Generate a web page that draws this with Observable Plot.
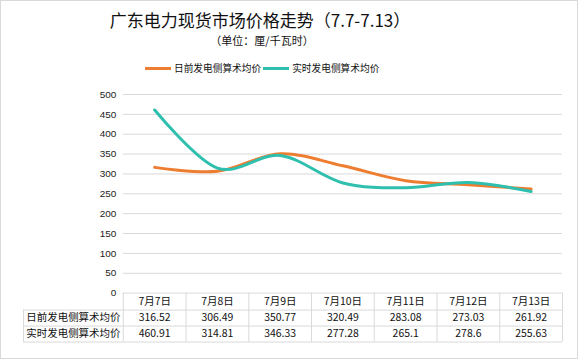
<!DOCTYPE html>
<html>
<head>
<meta charset="utf-8">
<script src="https://cdn.jsdelivr.net/npm/d3@7"></script>
<script src="https://cdn.jsdelivr.net/npm/@observablehq/plot@0.6"></script>
<style>
  html, body { margin: 0; padding: 0; background: #fff; }
  #wrap { position: relative; width: 576px; height: 357px; border: 1px solid #D9D9D9; overflow: hidden; font-family: "Noto Sans CJK SC", sans-serif; }
  #title { position: absolute; left: 0; top: 8px; width: 518px; text-align: center; font-size: 17px; line-height: 22px; color: #111; }
  #subtitle { position: absolute; left: 0; top: 31px; width: 522px; text-align: center; font-size: 11px; line-height: 16px; color: #111; }
  #legend { position: absolute; left: 144px; top: 59px; height: 16px; display: flex; align-items: center; font-size: 9.7px; color: #111; white-space: nowrap; }
  .sw { display: inline-block; width: 26px; height: 3px; margin-right: 3px; }
  .item { display: flex; align-items: center; margin-right: 2px; }
  #chart { position: absolute; left: -1px; top: 79px; }
</style>
</head>
<body>
<div id="wrap">
  <div id="title">广东电力现货市场价格走势（7.7-7.13）</div>
  <div id="subtitle">（单位：厘/千瓦时）</div>
  <div id="legend"></div>
  <div id="chart"></div>
</div>
<script>
const categories = ["7月7日", "7月8日", "7月9日", "7月10日", "7月11日", "7月12日", "7月13日"];
const seriesNames = ["日前发电侧算术均价", "实时发电侧算术均价"];
const dayAhead = [316.52, 306.49, 350.77, 320.49, 283.08, 273.03, 261.92];
const realTime = [460.91, 314.81, 346.33, 277.28, 265.1, 278.6, 255.63];
const yTicks = [0, 50, 100, 150, 200, 250, 300, 350, 400, 450, 500];
const colors = ["#ED7D31", "#2EBFAE"];

const legend = document.getElementById("legend");
seriesNames.forEach((n, k) => {
  const it = document.createElement("span");
  it.className = "item";
  it.innerHTML = `<span class="sw" style="background:${colors[k]}"></span><span>${n}</span>`;
  legend.appendChild(it);
});

const rows = [];
categories.forEach((c, i) => {
  rows.push({i, cat: c, series: seriesNames[0], value: dayAhead[i]});
  rows.push({i, cat: c, series: seriesNames[1], value: realTime[i]});
});
const idx = categories.map((c, i) => i);
const bounds = d3.range(categories.length + 1).map(i => i - 0.5);
const tableFont = "Noto Sans CJK SC, sans-serif";
const gridColor = "#D9D9D9";
const txt = "#111";

const chart = Plot.plot({
  width: 578,
  height: 280,
  marginTop: 14,
  marginBottom: 67,
  marginLeft: 123,
  marginRight: 15,
  style: {fontFamily: "Liberation Sans, Arial, sans-serif", fontSize: "10px", color: "#222", background: "transparent"},
  x: {type: "linear", domain: [-0.5, categories.length - 0.5], axis: null},
  y: {domain: [0, 500], ticks: yTicks, tickSize: 0, tickPadding: 7, label: null},
  color: {domain: seriesNames, range: colors},
  marks: [
    Plot.ruleY(yTicks.filter(t => t > 0), {stroke: gridColor, strokeWidth: 1}),
    // table horizontal lines
    Plot.ruleY([0], {x1: -0.5, x2: categories.length - 0.5, stroke: gridColor}),
    Plot.ruleY([0], {x1: -0.5, x2: categories.length - 0.5, dy: 17, insetLeft: -100, stroke: gridColor}),
    Plot.ruleY([0], {x1: -0.5, x2: categories.length - 0.5, dy: 33, insetLeft: -100, stroke: gridColor}),
    Plot.ruleY([0], {x1: -0.5, x2: categories.length - 0.5, dy: 49, insetLeft: -100, stroke: gridColor}),
    // table vertical lines
    Plot.ruleX(bounds, {y1: 0, y2: 0, insetBottom: -49, stroke: gridColor}),
    Plot.ruleX([-0.5], {y1: 0, y2: 0, dx: -100, insetTop: 17, insetBottom: -49, stroke: gridColor}),
    // header
    Plot.text(idx, {x: d => d, y: 0, dy: 9, text: d => categories[d], fontFamily: tableFont, fontSize: 10.5, fill: txt}),
    // row labels
    Plot.text([seriesNames[0]], {x: -0.5, y: 0, dx: -50, dy: 25, text: d => d, fontFamily: tableFont, fontSize: 10.5, fill: txt}),
    Plot.text([seriesNames[1]], {x: -0.5, y: 0, dx: -50, dy: 41, text: d => d, fontFamily: tableFont, fontSize: 10.5, fill: txt}),
    // values
    Plot.text(idx, {x: d => d, y: 0, dy: 25, text: d => String(dayAhead[d]), fontFamily: tableFont, fontSize: 10.5, fill: txt}),
    Plot.text(idx, {x: d => d, y: 0, dy: 41, text: d => String(realTime[d]), fontFamily: tableFont, fontSize: 10.5, fill: txt}),
    // lines
    Plot.line(rows, {x: "i", y: "value", stroke: "series", z: "series", strokeWidth: 3, curve: "cardinal", strokeLinecap: "round"})
  ]
});
document.getElementById("chart").appendChild(chart);
</script>
</body>
</html>
